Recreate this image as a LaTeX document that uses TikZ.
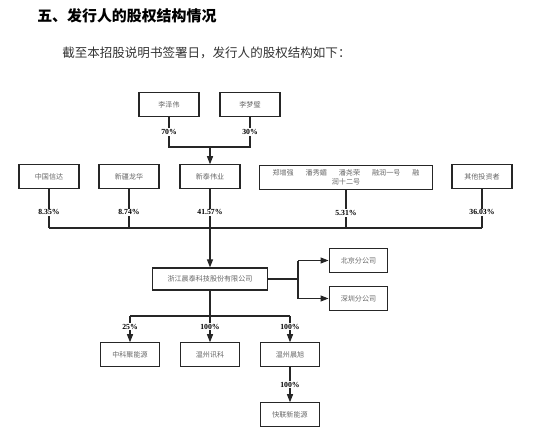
\documentclass[tikz,border=0pt]{standalone}
\usepackage{fontspec}
\setmainfont{Liberation Serif}
\newfontfamily\cjk{Noto Sans CJK SC}
\usetikzlibrary{arrows.meta}
\tikzset{
  gbox/.style={draw=black!85, line width=0.9pt, minimum width=45pt, minimum height=17.5pt, inner sep=1pt,
    font=\cjk\fontsize{5.3}{7}\selectfont, text=black!60},
  pct/.style={fill=white, inner sep=0.8pt, font=\bfseries\fontsize{5.8}{7}\selectfont},
  link/.style={line width=0.8pt, draw=black!85},
  arr/.style={link, -{Triangle[width=4.5pt,length=6pt]}}
}
\begin{document}
\begin{tikzpicture}[x=0.75pt, y=-0.75pt]
\useasboundingbox (0,0) rectangle (550,439);
\node[anchor=west, inner sep=0pt, font=\cjk\bfseries\fontsize{11.2}{13}\selectfont] (title) at (37,16) {五、发行人的股权结构情况};
\node[anchor=west, inner sep=0pt, font=\cjk\fontsize{9.4}{11}\selectfont, text=black!80] (intro) at (62,53) {截至本招股说明书签署日，发行人的股权结构如下：};
%% controlling holders
\node[gbox] (lzw) at (169,104.5) {李泽伟};
\node[gbox] (lmb) at (250,104.5) {李梦璧};
\coordinate (j1) at (210,147);
\draw[link] (lzw.south) -- node[pct] {70\%} (lzw.south |- j1) -- (lmb.south |- j1) -- node[pct] {30\%} (lmb.south);
%% shareholders
\node[gbox] (zgxd) at (49,176.5) {中国信达};
\node[gbox] (xjlh) at (129,176.5) {新疆龙华};
\node[gbox] (xtwy) at (210,176.5) {新泰伟业};
\node[gbox, minimum width=129.5pt, minimum height=18.5pt, align=center, font=\cjk\fontsize{5.3}{7.2}\selectfont] (zzq) at (346,177.5)
  {郑增强\hspace{1.7em}潘秀媚\hspace{1.7em}潘尧荣\hspace{1.7em}融润一号\hspace{1.7em}融\\润十二号};
\node[gbox] (qt) at (482,176.5) {其他投资者};
\draw[arr] (j1) -- (xtwy);
\coordinate (j2) at (210,228);
\draw[link] (zgxd.south |- j2) -- (qt.south |- j2);
\draw[link] (zgxd.south) -- node[pct, pos=0.6] {8.35\%} (zgxd.south |- j2);
\draw[link] (xjlh.south) -- node[pct, pos=0.6] {8.74\%} (xjlh.south |- j2);
\draw[link] (xtwy.south) -- node[pct, pos=0.6] {41.57\%} (j2);
\draw[link] (zzq.south) -- node[pct, pos=0.6] {5.31\%} (zzq.south |- j2);
\draw[link] (qt.south) -- node[pct, pos=0.6] {36.03\%} (qt.south |- j2);
%% issuer
\node[gbox, minimum width=86pt, minimum height=16.5pt] (ct) at (210,279) {浙江晨泰科技股份有限公司};
\draw[arr] (j2) -- (ct);
\node[gbox, minimum width=44pt] (bj) at (358.5,260.5) {北京分公司};
\node[gbox, minimum width=44pt] (sz) at (358.5,298.5) {深圳分公司};
\coordinate (j4) at (298,279);
\draw[link] (ct.east) -- (j4);
\draw[link] (j4 |- bj.west) -- (j4 |- sz.west);
\draw[arr] (j4 |- bj.west) -- (bj.west);
\draw[arr] (j4 |- sz.west) -- (sz.west);
%% subsidiaries
\node[gbox, minimum width=44pt] (zkj) at (130,354.5) {中科聚能源};
\node[gbox, minimum width=44pt] (wzxk) at (210,354.5) {温州讯科};
\node[gbox, minimum width=44pt] (wzcx) at (290,354.5) {温州晨旭};
\node[gbox, minimum width=44pt] (klx) at (290,414.5) {快联新能源};
\coordinate (j3) at (210,316);
\draw[link] (ct) -- (j3);
\draw[link] (zkj.north |- j3) -- (wzcx.north |- j3);
\draw[arr] (zkj.north |- j3) -- node[pct, pos=0.4] {25\%} (zkj.north);
\draw[arr] (j3) -- node[pct, pos=0.4] {100\%} (wzxk.north);
\draw[arr] (wzcx.north |- j3) -- node[pct, pos=0.4] {100\%} (wzcx.north);
\draw[arr] (wzcx) -- node[pct] {100\%} (klx);
\end{tikzpicture}
\end{document}
